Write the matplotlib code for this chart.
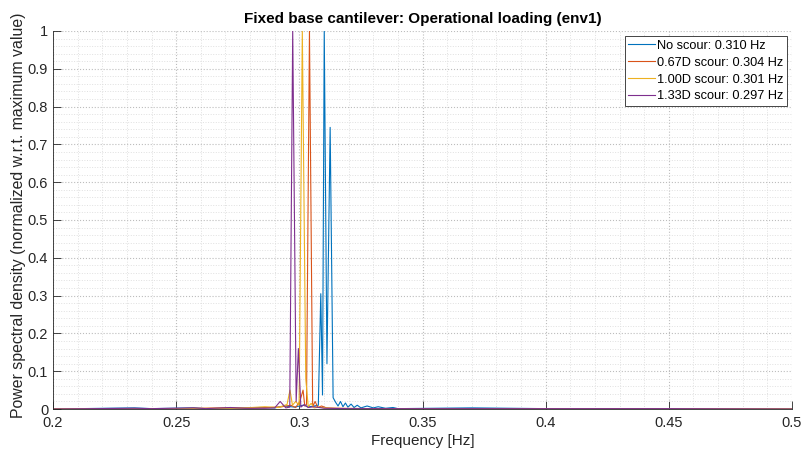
import matplotlib.pyplot as plt
from matplotlib.ticker import MultipleLocator, FuncFormatter

plt.rcParams['font.family'] = ['Liberation Sans', 'DejaVu Sans']

# PSD curves, normalized to their own maximum
freq_none = [0.200, 0.233, 0.240, 0.257, 0.262, 0.275, 0.284, 0.290, 0.294, 0.298,
             0.3015, 0.3040, 0.3060, 0.3077, 0.3087, 0.3094, 0.3101, 0.3112, 0.3125,
             0.3137, 0.3147, 0.3157, 0.3167, 0.3177, 0.3187, 0.3197, 0.3210, 0.3222,
             0.3235, 0.3250, 0.3275, 0.3300, 0.3320, 0.3350, 0.3380, 0.3400, 0.3700,
             0.4000, 0.4500, 0.5000]
psd_none = [0.0, 0.003, 0.001, 0.003, 0.001, 0.002, 0.004, 0.003, 0.008, 0.005,
            0.010, 0.006, 0.008, 0.010, 0.305, 0.037, 1.0, 0.120, 0.745,
            0.030, 0.018, 0.008, 0.020, 0.006, 0.016, 0.005, 0.013, 0.004,
            0.010, 0.003, 0.008, 0.003, 0.006, 0.002, 0.004, 0.001, 0.003,
            0.001, 0.001, 0.0]

freq_067 = [0.200, 0.250, 0.270, 0.280, 0.288, 0.293, 0.2965, 0.2985, 0.3002,
            0.3015, 0.3022, 0.3029, 0.3041, 0.3054, 0.3064, 0.3075, 0.3090, 0.3110,
            0.3150, 0.3300, 0.4000, 0.5000]
psd_067 = [0.0, 0.001, 0.003, 0.002, 0.004, 0.006, 0.010, 0.004, 0.020,
           0.050, 0.008, 0.012, 1.0, 0.006, 0.020, 0.004, 0.008, 0.003,
           0.002, 0.001, 0.001, 0.0]

freq_100 = [0.200, 0.250, 0.268, 0.278, 0.286, 0.2915, 0.2950, 0.2962, 0.2972,
            0.2985, 0.2999, 0.3012, 0.3026, 0.3036, 0.3048, 0.3060, 0.3080, 0.3120,
            0.3200, 0.4000, 0.5000]
psd_100 = [0.0, 0.001, 0.002, 0.003, 0.006, 0.004, 0.012, 0.050, 0.010,
           0.020, 0.010, 1.0, 0.080, 0.006, 0.015, 0.003, 0.005, 0.002,
           0.001, 0.001, 0.0]

freq_133 = [0.200, 0.233, 0.240, 0.257, 0.262, 0.272, 0.2780, 0.2860, 0.2900,
            0.2922, 0.2945, 0.2961, 0.2973, 0.2987, 0.2996, 0.3006, 0.3020, 0.3035,
            0.3060, 0.3100, 0.3200, 0.3500, 0.4000, 0.4500, 0.5000]
psd_133 = [0.0, 0.002, 0.001, 0.003, 0.001, 0.004, 0.002, 0.002, 0.003,
           0.020, 0.003, 0.005, 1.0, 0.020, 0.160, 0.005, 0.012, 0.004,
           0.006, 0.002, 0.001, 0.001, 0.001, 0.001, 0.0]

labels = ['No scour: 0.310 Hz', '0.67D scour: 0.304 Hz',
          '1.00D scour: 0.301 Hz', '1.33D scour: 0.297 Hz']
colors = ['#0072BD', '#D95319', '#EDB120', '#7E2F8E']

fig = plt.figure(figsize=(8.01, 4.51), dpi=100)
ax = fig.add_axes([0.0662, 0.0931, 0.9226, 0.8382])

series = [(freq_none, psd_none), (freq_067, psd_067),
          (freq_100, psd_100), (freq_133, psd_133)]
for (f, p), lab, c in zip(series, labels, colors):
    ax.plot(f, p, color=c, lw=0.8, label=lab)

ax.set_xlim(0.2, 0.5)
ax.set_ylim(0, 1)
ax.xaxis.set_major_locator(MultipleLocator(0.05))
ax.xaxis.set_minor_locator(MultipleLocator(0.01))
ax.yaxis.set_major_locator(MultipleLocator(0.1))
ax.yaxis.set_minor_locator(MultipleLocator(0.02))
fmt = FuncFormatter(lambda v, pos: '%g' % round(v, 3))
ax.xaxis.set_major_formatter(fmt)
ax.yaxis.set_major_formatter(fmt)

ax.grid(True, which='major', ls=':', color='#bdbdbd', lw=0.8)
ax.grid(True, which='minor', ls=':', color='#e0e0e0', lw=0.7)
ax.set_axisbelow(True)

for s in ['top', 'right']:
    ax.spines[s].set_visible(False)
for s in ['left', 'bottom']:
    ax.spines[s].set_color('#262626')
    ax.spines[s].set_linewidth(0.6)
ax.tick_params(which='major', direction='in', length=6, width=0.6,
               colors='#262626', labelsize=10.5, top=False, right=False)
ax.tick_params(which='minor', length=0)
ax.tick_params(axis='x', pad=5)

ax.set_xlabel('Frequency [Hz]', fontsize=11, color='#262626', labelpad=3)
ax.set_ylabel('Power spectral density (normalized w.r.t. maximum value)',
              fontsize=11.4, color='#262626')
ax.yaxis.set_label_coords(-0.036, 0.512)
ax.set_title('Fixed base cantilever: Operational loading (env1)',
             fontsize=11, fontweight='bold', color='black', pad=6)

leg = ax.legend(loc='upper right', fontsize=9.2, fancybox=False, framealpha=1,
                edgecolor='#262626', handlelength=2.1, handletextpad=0.1,
                borderpad=0.3, labelspacing=0.38, borderaxespad=0.4)
leg.get_frame().set_linewidth(0.6)

fig.savefig('out.png', dpi=100)
